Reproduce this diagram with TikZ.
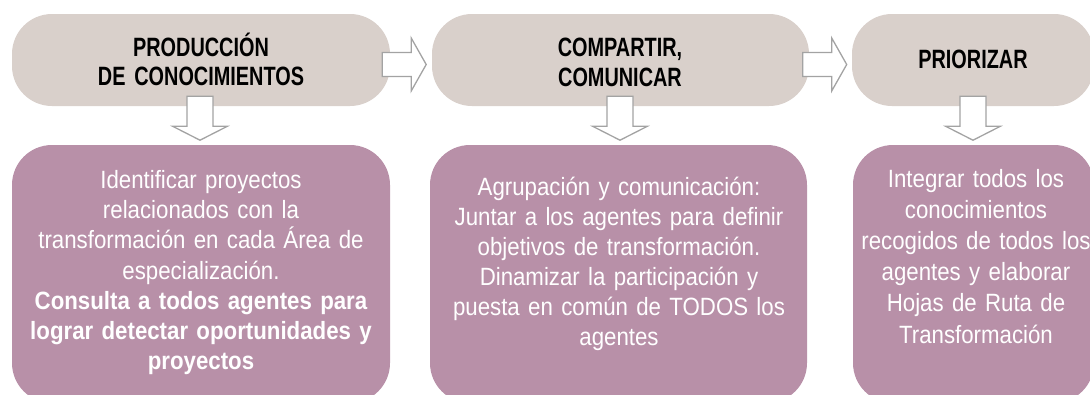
\documentclass[tikz,border=0pt]{standalone}
\usepackage{fontspec}
\setmainfont{Liberation Sans}
\newfontfamily\headfont[FakeStretch=0.75]{Liberation Sans}
\newfontfamily\bodyfont[FakeStretch=0.89]{Liberation Sans}
\usetikzlibrary{calc}
\definecolor{beige}{HTML}{D9D0CB}
\definecolor{plum}{HTML}{B890A8}
\definecolor{arrowgray}{HTML}{A3A3A3}
\tikzset{
  topbox/.style={rectangle, rounded corners=40pt, fill=beige, minimum height=92pt, inner sep=0pt},
  botbox/.style={rectangle, rounded corners=40pt, fill=plum, minimum height=258pt, inner sep=0pt},
  headtext/.style={anchor=base, inner sep=0pt, text width=380pt, align=center, text=black,
    font=\headfont\bfseries\fontsize{26.5}{29.5}\selectfont},
  bodytext/.style={anchor=base, inner sep=0pt, text width=400pt, align=center, text=white},
  arrowline/.style={draw=arrowgray, fill=white, line width=1.3pt, line join=miter},
  rblock/.pic={\path[arrowline] (0,-12) -- (29,-12) -- (29,-26.5) -- (44,0) -- (29,26.5) -- (29,12) -- (0,12) -- cycle;},
  dblock/.pic={\path[arrowline] (-13,0) -- (13,0) -- (13,30) -- (27.5,30) -- (0,44) -- (-27.5,30) -- (-13,30) -- cycle;}
}
\begin{document}
\begin{tikzpicture}[x=1pt, y=-1pt]
\useasboundingbox (0,0) rectangle (1090,394);
\clip (0,0) rectangle (1090,394);
% top boxes
\node[topbox, minimum width=378pt] (p1) at (201,60) {};
\node[topbox, minimum width=377pt] (p2) at (620.5,60) {};
\node[topbox, minimum width=242pt] (p3) at (973,60) {};
% bottom boxes
\node[botbox, minimum width=378pt] (q1) at (201,274) {};
\node[botbox, minimum width=377pt] (q2) at (618.5,274) {};
\node[botbox, minimum width=241pt] (q3) at (973.5,274) {};
% headings
\node[headtext] (h1) at (201,56) {PRODUCCIÓN\\DE CONOCIMIENTOS};
\node[headtext] (h2) at (620,56.5) {COMPARTIR,\\COMUNICAR};
\node[headtext] (h3) at (973,68.5) {PRIORIZAR};
% body texts
\node[bodytext, font=\bodyfont\fontsize{25}{30.2}\selectfont] (b1) at (201,188.5)
  {Identificar proyectos\\relacionados con la\\transformación en cada Área de\\especialización.\\
   {\bfseries Consulta a todos agentes para\\lograr detectar oportunidades y\\proyectos}};
\node[bodytext, font=\bodyfont\fontsize{25}{30}\selectfont] (b2) at (619,195)
  {Agrupación y comunicación:\\Juntar a los agentes para definir\\objetivos de transformación.\\Dinamizar la participación y\\puesta en común de TODOS los\\agentes};
\node[bodytext, font=\bodyfont\fontsize{25}{31.2}\selectfont] (b3) at (976,187)
  {Integrar todos los\\conocimientos\\recogidos de todos los\\agentes y elaborar\\Hojas de Ruta de\\Transformación};
% block arrows
\pic at ($(p1.east)+(-8,4.5)$) {rblock};
\pic at ($(p2.east)+(-6.5,4.5)$) {rblock};
\pic at ($(p1.south)+(-1,-10)$) {dblock};
\pic at ($(p2.south)+(-0.5,-10)$) {dblock};
\pic at ($(p3.south)+(0,-10)$) {dblock};
\end{tikzpicture}
\end{document}
